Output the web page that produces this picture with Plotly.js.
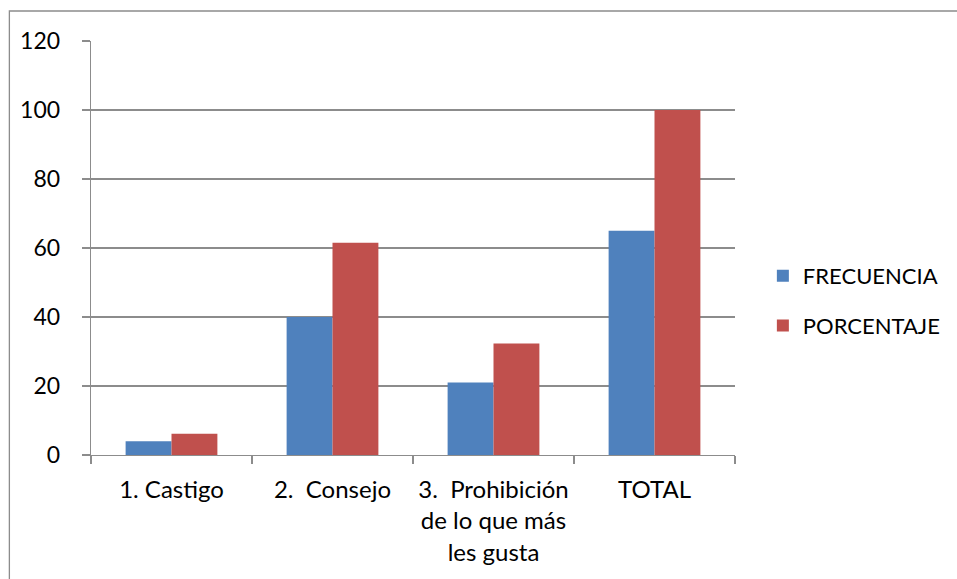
<!DOCTYPE html>
<html>
<head>
<meta charset="utf-8">
<script src="https://cdn.plot.ly/plotly-3.0.1.min.js"></script>
<style>
  html, body { margin: 0; padding: 0; background: #fff; }
  #chart { width: 957px; height: 579px; }
</style>
</head>
<body>
<div id="chart"></div>
<script>
const categories = ["1. Castigo", "2.  Consejo", "3.  Prohibición<br>de lo que más<br>les gusta", "TOTAL"];
const frecuencia = [4, 40, 21, 65];
const porcentaje = [6.15, 61.54, 32.31, 100];
const yTicks = [0, 20, 40, 60, 80, 100, 120];

const W = 957, H = 579;
const L = 91, R = 738, T = 41, B = 455;
const pw = R - L, ph = B - T;
const px = x => (x - L) / pw;
const py = y => (B - y) / ph;

const font = "Lato, 'Open Sans', sans-serif";
const gray = "#8c8c8c";

const data = [
  { type: "bar", name: "FRECUENCIA", x: categories, y: frecuencia,
    marker: { color: "#4F81BD", line: { width: 0 } }, legendgroup: "a" },
  { type: "bar", name: "PORCENTAJE", x: categories, y: porcentaje,
    marker: { color: "#C0504D", line: { width: 0 } }, legendgroup: "b" }
];

const layout = {
  width: W, height: H,
  margin: { l: L, r: W - R, t: T, b: H - B, pad: 0 },
  paper_bgcolor: "#fff", plot_bgcolor: "#fff",
  font: { family: font, size: 22, color: "#000" },
  barmode: "group", bargap: 0.43, bargroupgap: 0,
  showlegend: true,
  legend: {
    x: px(766), xanchor: "left", y: py(255), yanchor: "top",
    font: { family: font, size: 22, color: "#000" },
    traceorder: "grouped", tracegroupgap: 18,
    bgcolor: "rgba(0,0,0,0)", borderwidth: 0
  },
  xaxis: {
    type: "category", range: [-0.5, 3.5],
    showgrid: false, showline: true, linecolor: gray, linewidth: 1.3,
    ticks: "outside", tickson: "boundaries", ticklen: 8, tickcolor: gray, tickwidth: 1.3,
    tickfont: { family: font, size: 24, color: "#000" },
    ticklabelstandoff: 13, zeroline: false, fixedrange: true
  },
  yaxis: {
    range: [0, 120], tickvals: yTicks, ticktext: yTicks.map(String),
    showgrid: true, gridcolor: gray, gridwidth: 1.3,
    showline: true, linecolor: gray, linewidth: 1.3,
    ticks: "outside", ticklen: 8, tickcolor: gray, tickwidth: 1.3,
    tickfont: { family: font, size: 23, color: "#000" },
    ticklabelstandoff: 17, zeroline: false, fixedrange: true
  },
  shapes: [{
    type: "rect", xref: "paper", yref: "paper",
    x0: px(9), x1: px(975), y0: py(600), y1: py(11),
    line: { color: gray, width: 1.3 }, fillcolor: "rgba(0,0,0,0)", layer: "below"
  }]
};

Plotly.newPlot("chart", data, layout, { displayModeBar: false, staticPlot: true });
</script>
</body>
</html>
